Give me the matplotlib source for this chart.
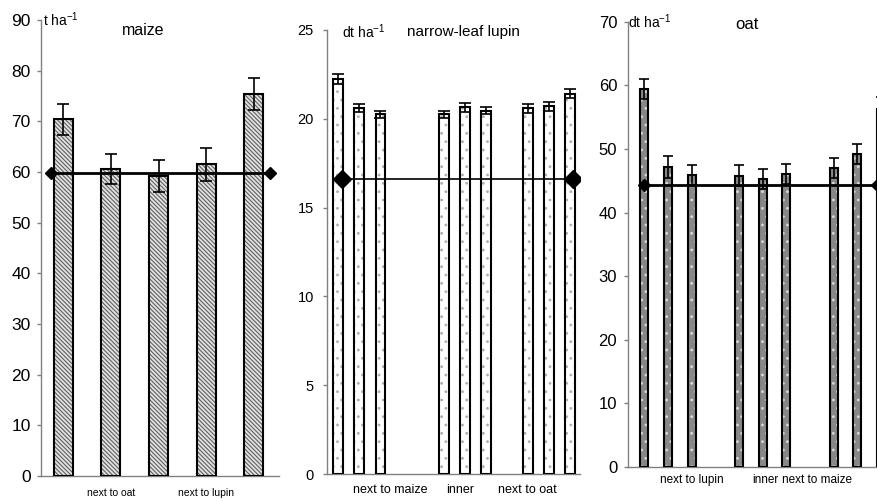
import numpy as np
import matplotlib
matplotlib.use("Agg")
import matplotlib.pyplot as plt

plt.rcParams['font.family'] = ['Liberation Sans', 'DejaVu Sans']
plt.rcParams['mathtext.default'] = 'regular'
plt.rcParams['hatch.linewidth'] = 0.8

# Maize yield (t/ha)
maize_vals = [70.4, 60.6, 59.2, 61.5, 75.4]
maize_err = [3.1, 3.0, 3.2, 3.3, 3.1]
maize_mean = 59.9
maize_labels = ['next to oat', 'next to lupin']

# Narrow-leaf lupin yield (dt/ha)
lupin_vals = [22.25, 20.6, 20.25, 20.25, 20.65, 20.45, 20.6, 20.7, 21.4]
lupin_err = [0.28, 0.22, 0.2, 0.2, 0.25, 0.2, 0.25, 0.25, 0.25]
lupin_mean = 16.6
lupin_labels = ['next to maize', 'inner', 'next to oat']

# Oat yield (dt/ha)
oat_vals = [59.4, 47.2, 45.9, 45.8, 45.3, 46.1, 47.0, 49.2, 56.3]
oat_err = [1.6, 1.7, 1.6, 1.6, 1.6, 1.6, 1.6, 1.6, 1.8]
oat_mean = 44.3
oat_labels = ['next to lupin', 'inner', 'next to maize']

W, H = 877, 501
fig = plt.figure(figsize=(W / 100, H / 100), dpi=100)


def px_axes(left, right, top, bottom):
    return fig.add_axes([left / W, 1 - bottom / H, (right - left) / W, (bottom - top) / H])


def style_axes(ax, ymax, step, fs, pad):
    for s in ['top', 'right']:
        ax.spines[s].set_visible(False)
    for s in ['left', 'bottom']:
        ax.spines[s].set_color('#808080')
        ax.spines[s].set_linewidth(1.0)
    ax.set_ylim(0, ymax)
    ax.set_yticks(np.arange(0, ymax + 0.1, step))
    ax.tick_params(axis='y', direction='out', length=3, width=1, color='#808080',
                   labelsize=fs, pad=pad)
    ax.tick_params(axis='x', length=0)


def draw_bars(ax, pos, vals, errs, width, face, hatch, hcolor, capsize):
    ax.bar(pos, vals, width, color=face, hatch=hatch, edgecolor=hcolor, linewidth=0, zorder=2)
    ax.bar(pos, vals, width, fill=False, edgecolor='black', linewidth=1.5, zorder=3)
    ax.errorbar(pos, vals, yerr=errs, fmt='none', ecolor='black', elinewidth=1.2,
                capsize=capsize, capthick=1.2, zorder=4)


# --- maize ---
ax1 = px_axes(41, 279, 20, 476)
style_axes(ax1, 90, 10, 12.5, 4.5)
mpos = np.arange(len(maize_vals))
draw_bars(ax1, mpos, maize_vals, maize_err, 0.4, '#e2e2e2', '\\' * 8, '#606060', 4.5)
ax1.plot([-0.26, 4.34], [maize_mean, maize_mean], color='black', lw=2,
         marker='D', ms=6, zorder=5)
ax1.set_xlim(-0.47, 4.53)
ax1.set_xticks([1, 3])
ax1.set_xticklabels(maize_labels, fontsize=7.5)
ax1.tick_params(axis='x', pad=9)
ax1.text(0.008, 1.0, 't ha$^{-1}$', transform=ax1.transAxes, fontsize=10,
         ha='left', va='center')
ax1.text(0.43, 0.976, 'maize', transform=ax1.transAxes, fontsize=11.5,
         ha='center', va='center')

# --- narrow-leaf lupin ---
ax2 = px_axes(327, 580, 30, 474)
style_axes(ax2, 25, 5, 10.5, 6.5)
lpos = np.array([0, 1, 2, 5, 6, 7, 9, 10, 11])
draw_bars(ax2, lpos, lupin_vals, lupin_err, 0.47, 'white', '..', '#b0b0b0', 4)
ax2.plot([0.16, 11.16], [lupin_mean, lupin_mean], color='black', lw=1.2,
         marker='D', ms=9, zorder=5)
ax2.set_xlim(-0.54, 11.48)
ax2.set_xticks([2.45, 5.8, 9.0])
ax2.set_xticklabels(lupin_labels, fontsize=9)
ax2.tick_params(axis='x', pad=7)
ax2.text(0.058, 0.996, 'dt ha$^{-1}$', transform=ax2.transAxes, fontsize=10,
         ha='left', va='center')
ax2.text(0.541, 0.996, 'narrow-leaf lupin', transform=ax2.transAxes, fontsize=11,
         ha='center', va='center')

# --- oat (runs off the right edge like the original) ---
ax3 = px_axes(628.3, 904.5, 21.7, 467)
style_axes(ax3, 70, 10, 12, 5)
opos = np.array([0, 1, 2, 4, 5, 6, 8, 9, 10])
draw_bars(ax3, opos, oat_vals, oat_err, 0.34, '#888888', '..', '#d8d8d8', 3.6)
ax3.plot([0.0, 9.84], [oat_mean, oat_mean], color='black', lw=2,
         marker='D', ms=6, zorder=5)
ax3.set_xlim(-0.68, 11.0)
ax3.set_xticks([2.0, 5.1, 7.3])
ax3.set_xticklabels(oat_labels, fontsize=8.5)
ax3.tick_params(axis='x', pad=5)
ax3.text(0.0, 1.0, 'dt ha$^{-1}$', transform=ax3.transAxes, fontsize=10,
         ha='left', va='center')
ax3.text(0.429, 0.993, 'oat', transform=ax3.transAxes, fontsize=12,
         ha='center', va='center')

fig.savefig('out.png', dpi=100)
